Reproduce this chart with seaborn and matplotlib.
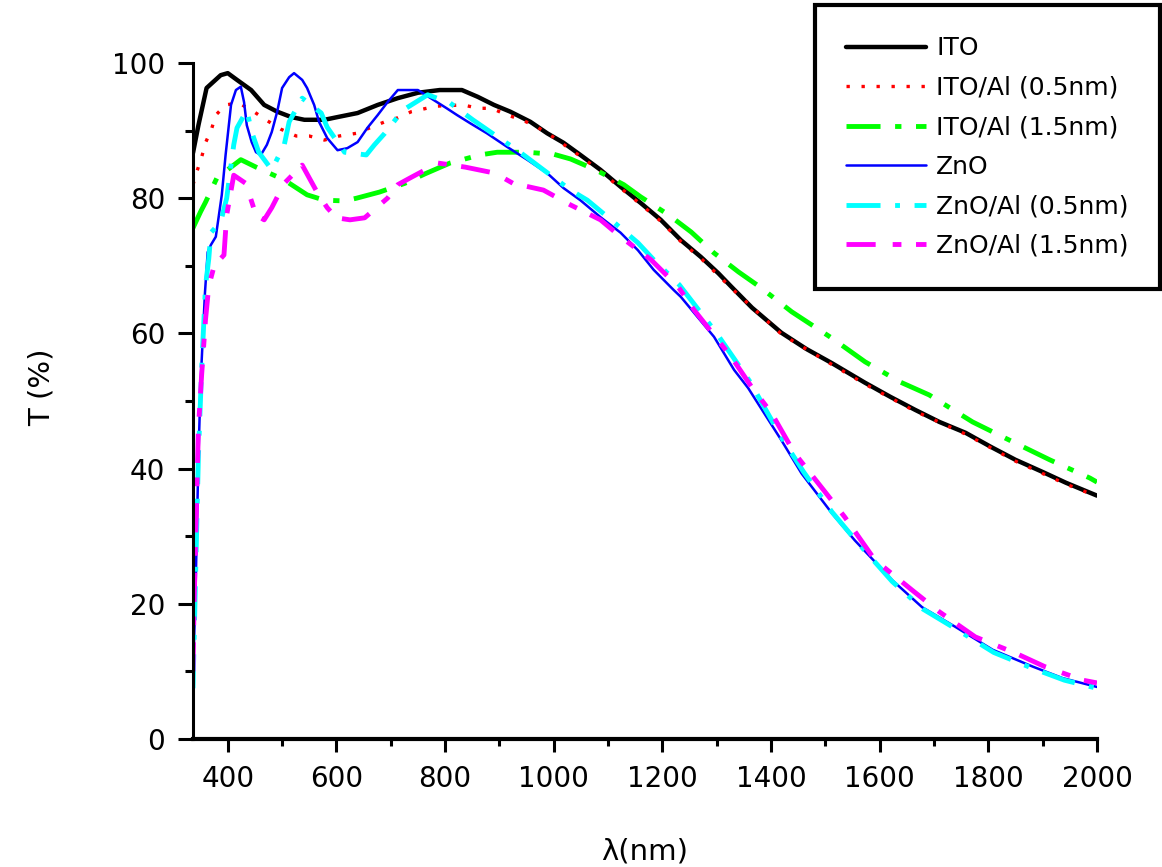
import numpy as np
import pandas as pd
import seaborn as sns
import matplotlib.pyplot as plt

# wavelength (nm) / transmittance (%)
ito_nm = [336, 346, 361, 387, 400, 417, 443, 467, 491, 517, 541, 578, 602, 639, 676, 713, 750, 790,
          831, 860, 890, 920, 957, 988, 1018, 1049, 1086, 1123, 1160, 1197, 1234, 1271, 1303, 1327,
          1365, 1419, 1465, 1512, 1573, 1620, 1665, 1710, 1758, 1805, 1850, 1900, 1943, 2000]
ito_t = [86.7, 90.8, 96.3, 98.2, 98.5, 97.5, 96.0, 93.8, 92.8, 92.0, 91.6, 91.6, 92.0, 92.6, 93.8,
         94.8, 95.6, 96.0, 96.0, 95.0, 93.8, 92.8, 91.3, 89.6, 88.2, 86.4, 84.2, 81.7, 79.3, 76.8,
         73.8, 71.3, 68.9, 66.9, 63.8, 60.1, 57.7, 55.6, 52.7, 50.6, 48.7, 46.9, 45.3, 43.2, 41.3,
         39.5, 37.9, 36.0]

ito_al05_nm = [336, 343, 352, 359, 370, 378, 396, 420, 448, 470, 498, 526, 550, 578, 605, 637, 689,
               713, 738, 766, 781, 833, 861, 886, 914, 938, 966, 1000, 1049, 1086, 1123, 1160, 1197,
               1234, 1271, 1327, 1419, 1512, 1573, 1665, 1758, 1850, 1943, 2000]
ito_al05_t = [82.0, 83.9, 86.1, 88.2, 90.2, 92.3, 93.8, 94.1, 92.8, 91.6, 90.2, 89.2, 89.2, 88.6,
              89.2, 89.6, 91.3, 91.9, 92.8, 93.3, 93.6, 93.8, 93.3, 93.3, 92.3, 91.7, 90.7, 89.0,
              86.2, 84.0, 81.5, 79.1, 76.6, 73.6, 71.1, 66.7, 59.9, 55.4, 52.5, 48.5, 45.1, 41.1,
              37.7, 35.9]

ito_al15_nm = [336, 350, 359, 380, 424, 452, 504, 546, 578, 615, 637, 679, 726, 763, 809, 864, 896,
               950, 1000, 1031, 1077, 1129, 1160, 1212, 1253, 1295, 1340, 1379, 1438, 1512, 1573,
               1638, 1691, 1771, 1839, 1913, 1987, 2000]
ito_al15_t = [75.6, 78.0, 79.4, 83.0, 85.7, 84.6, 82.7, 80.5, 79.7, 79.6, 80.0, 80.9, 82.2, 83.6,
              85.2, 86.4, 86.8, 86.8, 86.5, 85.8, 84.2, 82.0, 80.2, 77.5, 75.0, 71.9, 69.1, 66.9,
              63.2, 59.3, 55.8, 52.8, 50.9, 46.9, 44.2, 41.3, 38.6, 38.0]

zno_nm = [336, 341, 346, 350, 358, 363, 369, 378, 383, 389, 396, 406, 415, 424, 430, 435, 444, 452,
          461, 472, 481, 491, 500, 513, 522, 537, 546, 559, 568, 583, 602, 620, 639, 657, 676, 694,
          713, 750, 803, 822, 846, 877, 914, 951, 988, 1018, 1049, 1086, 1123, 1155, 1184, 1221,
          1234, 1295, 1332, 1358, 1419, 1456, 1512, 1554, 1623, 1678, 1739, 1808, 1882, 1937, 2000]
zno_t = [9.2, 23.0, 41.7, 52.7, 66.0, 72.0, 73.1, 74.3, 77.1, 80.5, 86.4, 93.8, 96.0, 96.5, 94.2,
         90.8, 88.3, 86.8, 86.4, 87.9, 89.8, 92.8, 96.3, 97.9, 98.5, 97.5, 96.3, 93.8, 91.3, 88.9,
         87.1, 87.4, 88.3, 90.4, 92.3, 94.2, 96.0, 96.0, 93.3, 92.3, 91.1, 89.6, 87.6, 85.7, 83.7,
         81.5, 79.7, 77.2, 74.9, 72.3, 69.4, 66.4, 65.4, 59.5, 54.6, 51.9, 44.2, 39.3, 33.4, 29.4,
         23.5, 19.5, 16.6, 13.2, 10.7, 9.0, 7.7]

zno_al05_nm = [336, 341, 346, 352, 359, 365, 369, 387, 398, 411, 417, 435, 444, 457, 481, 504, 513,
               537, 572, 583, 602, 615, 655, 670, 689, 722, 768, 809, 851, 896, 933, 981, 1031,
               1062, 1110, 1155, 1184, 1231, 1300, 1360, 1420, 1460, 1512, 1560, 1623, 1680, 1740,
               1810, 1880, 1940, 2000]
zno_al05_t = [7.5, 25.0, 42.0, 55.0, 67.0, 71.0, 74.9, 76.5, 80.0, 87.9, 90.4, 93.0, 89.8, 86.8,
              84.2, 87.9, 91.3, 94.8, 92.6, 90.5, 88.3, 86.8, 86.4, 87.9, 89.6, 93.0, 95.3, 94.1,
              91.6, 89.1, 87.1, 84.2, 81.2, 79.7, 76.5, 73.4, 70.9, 67.2, 60.0, 53.0, 44.5, 39.5,
              33.6, 29.0, 23.3, 19.2, 16.3, 12.8, 10.5, 8.7, 7.5]

zno_al15_nm = [336, 338, 341, 346, 352, 359, 365, 375, 393, 398, 411, 433, 452, 467, 481, 504, 537,
               565, 583, 600, 625, 652, 694, 713, 738, 787, 837, 892, 925, 981, 1031, 1086, 1123,
               1179, 1229, 1258, 1327, 1364, 1401, 1443, 1497, 1536, 1591, 1660, 1710, 1776, 1850,
               1904, 1974, 2000]
zno_al15_t = [10.0, 20.0, 30.0, 46.0, 54.0, 62.0, 67.0, 70.0, 71.6, 77.5, 83.4, 82.2, 77.5, 76.8,
              78.6, 82.2, 84.9, 80.8, 78.6, 77.1, 76.8, 77.1, 80.0, 82.0, 83.1, 85.2, 84.6, 83.7,
              82.2, 81.2, 79.0, 76.8, 74.3, 70.9, 66.9, 63.5, 56.5, 52.1, 48.2, 42.3, 36.8, 32.8,
              26.5, 22.0, 18.8, 15.1, 12.7, 10.7, 8.7, 8.3]

labels = ["ITO", "ITO/Al (0.5nm)", "ITO/Al (1.5nm)", "ZnO", "ZnO/Al (0.5nm)", "ZnO/Al (1.5nm)"]
xs = [ito_nm, ito_al05_nm, ito_al15_nm, zno_nm, zno_al05_nm, zno_al15_nm]
ys = [ito_t, ito_al05_t, ito_al15_t, zno_t, zno_al05_t, zno_al15_t]
colors = ["black", "#ff0000", "#00ff00", "#0000ff", "#00ffff", "#ff00ff"]
widths = [3.2, 2.4, 3.5, 1.8, 3.5, 3.5]
styles = ["-", (0, (1, 3.5)), (0, (7, 3, 1.3, 3)), "-", (0, (7, 3, 1, 3)), (0, (6, 3.5, 1.8, 3))]

sns.set_style("ticks")
plt.rcParams["font.family"] = ["DejaVu Sans"]
plt.rcParams["text.color"] = "black"
plt.rcParams["axes.labelcolor"] = "black"
plt.rcParams["xtick.color"] = "black"
plt.rcParams["ytick.color"] = "black"
plt.rcParams["axes.edgecolor"] = "black"

fig = plt.figure(figsize=(11.62, 8.67), dpi=100)
ax = fig.add_axes([193 / 1162, 1 - 739 / 867, 904 / 1162, 676 / 867])

for x, y, lab, c, w, ls in zip(xs, ys, labels, colors, widths, styles):
    df = pd.DataFrame({"nm": x, "T": y})
    sns.lineplot(data=df, x="nm", y="T", ax=ax, color=c, lw=w, linestyle=ls, label=lab,
                 estimator=None, sort=False)

ax.set_xlim(336, 2000)
ax.set_ylim(0, 100)
ax.set_xticks(range(400, 2001, 200))
ax.set_xticks(range(500, 2000, 200), minor=True)
ax.set_yticks(range(0, 101, 20))
ax.set_yticks(range(10, 100, 20), minor=True)
sns.despine(ax=ax)
ax.spines["left"].set_linewidth(2.2)
ax.spines["bottom"].set_linewidth(3)
ax.tick_params(axis="y", which="major", length=11, width=2.2, labelsize=20, pad=9)
ax.tick_params(axis="y", which="minor", length=6, width=2.2)
ax.tick_params(axis="x", which="major", length=9, width=2.2, labelsize=20, pad=10)
ax.tick_params(axis="x", which="minor", length=5, width=2.2)

ax.set_xlabel("λ(nm)", fontsize=21)
ax.set_ylabel("T (%)", fontsize=21)
ax.xaxis.set_label_coords(0.5, -0.145)
ax.yaxis.set_label_coords(-0.152, 0.52)

leg = ax.legend(loc="upper right", bbox_to_anchor=(1160 / 1162, 1 - 5 / 867),
                bbox_transform=fig.transFigure, borderaxespad=0, fontsize=18,
                frameon=True, fancybox=False, framealpha=1, edgecolor="black",
                handlelength=3.2, handletextpad=0.4, labelspacing=0.62, borderpad=1.25)
leg.get_frame().set_linewidth(3)

fig.savefig("out.png", dpi=100)
